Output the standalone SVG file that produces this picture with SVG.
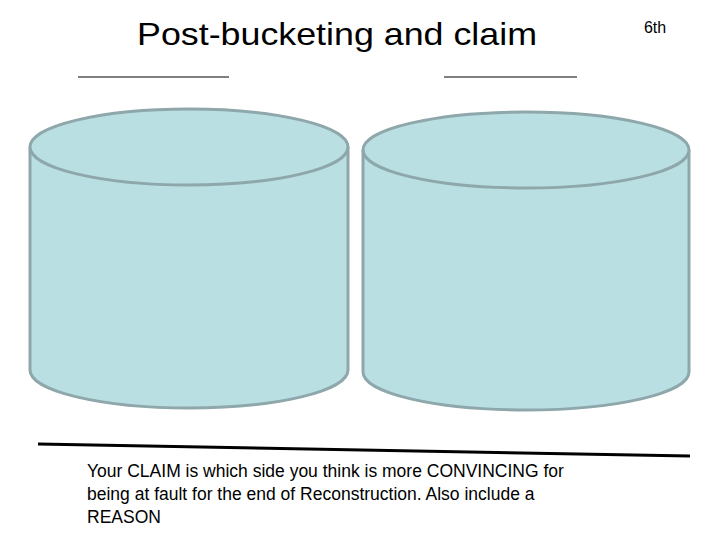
<svg xmlns="http://www.w3.org/2000/svg" width="720" height="540" viewBox="0 0 720 540">
<style>
.cyl{fill:#b9dfe3;stroke:#8ea7aa;stroke-width:3}
.t{font-family:"Liberation Sans",Arial,sans-serif;fill:#000}
</style>
<rect width="720" height="540" fill="#fff"/>
<text class="t" x="337" y="45" font-size="32" text-anchor="middle" textLength="400" lengthAdjust="spacingAndGlyphs">Post-bucketing and claim</text>
<text class="t" x="655" y="33" font-size="16" text-anchor="middle">6th</text>
<g id="lines">
<line x1="78" y1="77" x2="229" y2="77" stroke="#000" stroke-width="1"/>
<line x1="444" y1="77" x2="577" y2="77" stroke="#000" stroke-width="1"/>
<line x1="38" y1="444" x2="690" y2="456" stroke="#000" stroke-width="3"/>
</g>
<g id="bucket-left">
<path class="cyl" d="M30,147 L30,370 A159,38 0 0 0 348,370 L348,147"/>
<ellipse class="cyl" cx="189" cy="147" rx="159" ry="38"/>
</g>
<g id="bucket-right">
<path class="cyl" d="M363,150 L363,372 A163,38 0 0 0 689,372 L689,150"/>
<ellipse class="cyl" cx="526" cy="150" rx="163" ry="38"/>
</g>
<text class="t" font-size="17.5"><tspan x="87" y="477">Your CLAIM is which side you think is more CONVINCING for</tspan><tspan x="87" y="500">being at fault for the end of Reconstruction. Also include a</tspan><tspan x="87" y="523">REASON</tspan></text>
</svg>
